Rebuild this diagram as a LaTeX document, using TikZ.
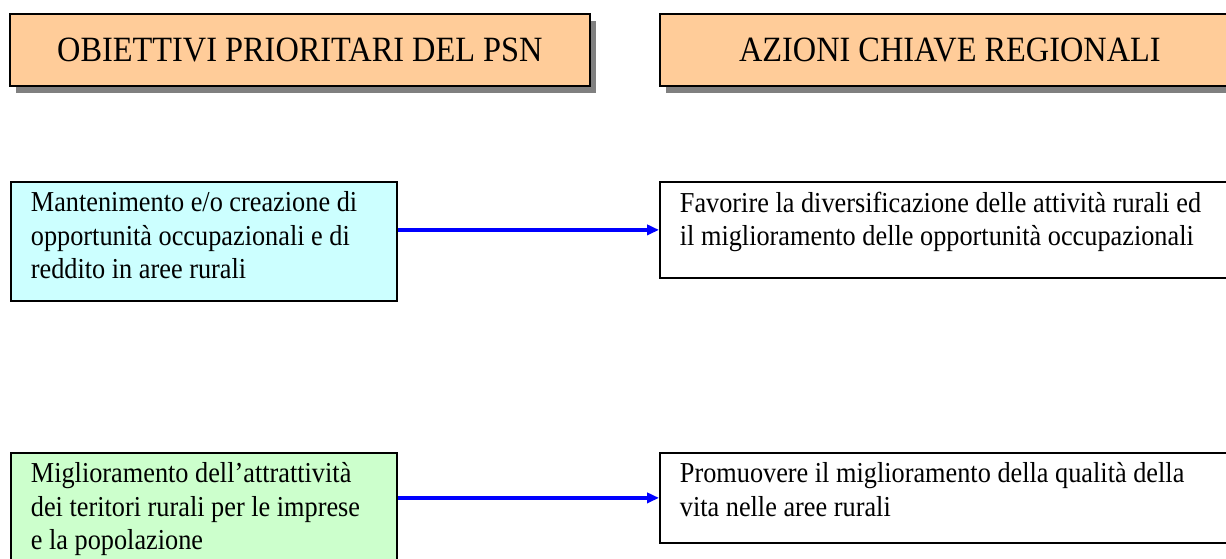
\documentclass[tikz,border=0pt]{standalone}
\usepackage{fontspec}
\setmainfont{Liberation Serif}[FakeStretch=0.91]
\usetikzlibrary{arrows.meta,shadows}
\definecolor{orangeclair}{HTML}{FFCC99}
\definecolor{cyanclair}{HTML}{CCFFFF}
\definecolor{vertclair}{HTML}{CCFFCC}
\definecolor{ombre}{HTML}{808080}
\newcommand{\boite}[3]{\parbox[c][#1][t]{#2}{\raggedright\hyphenpenalty=10000 #3}}

\begin{document}
\begin{tikzpicture}[x=0.45pt,y=-0.45pt]
%
% Styles
%
\tikzset{every node/.style={font=\fontsize{13}{15}\selectfont}};%
\tikzset{cadre/.style={draw=black, line width=0.8pt, rectangle, anchor=north west}};%
\tikzset{entete/.style={cadre, inner ysep=0pt, fill=orangeclair, minimum width=261pt, minimum height=32.4pt, font=\fontsize{16}{18}\selectfont, drop shadow={shadow xshift=2.7pt, shadow yshift=-3.4pt, fill=ombre, opacity=1}}};%
\tikzset{objectif/.style={cadre, fill=#1, inner xsep=9pt, inner ysep=4.5pt}};%
\tikzset{action/.style={cadre, fill=white, inner xsep=9pt, inner ysep=4.5pt}};%
\tikzset{fleche/.style={draw=blue, line width=1.5pt, -{Triangle[length=5.4pt, width=4.6pt]}}};%

%
% Page
%
\useasboundingbox (0,0) rectangle (1226,559);%
\clip (0,0) rectangle (1226,559);%

%
% Headers
%
\node[entete] (titreobj) at (9,13) {OBIETTIVI PRIORITARI DEL PSN};%
\node[entete] (titreact) at (659,13) {AZIONI CHIAVE REGIONALI};%

%
% Objectives and key actions
%
\node[objectif=cyanclair] (obj1) at (10,181) {\boite{44.5pt}{155.7pt}{Mantenimento e/o creazione di\\opportunità occupazionali e di\\reddito in aree rurali}};%
\node[action] (act1) at (659,181) {\boite{34.2pt}{250pt}{Favorire la diversificazione delle attività rurali ed\\il miglioramento delle opportunità occupazionali}};%
\node[objectif=vertclair] (obj2) at (10,452) {\boite{44.5pt}{155.7pt}{Miglioramento dell’attrattività\\dei teritori rurali per le imprese\\e la popolazione}};%
\node[action] (act2) at (659,452) {\boite{31.5pt}{250pt}{Promuovere il miglioramento della qualità della\\vita nelle aree rurali}};%

% The links
\draw[fleche] (obj1.east |- act1.west) -- (act1.west);%
\draw[fleche] (obj2.east |- act2.west) -- (act2.west);%
\end{tikzpicture}
\end{document}
